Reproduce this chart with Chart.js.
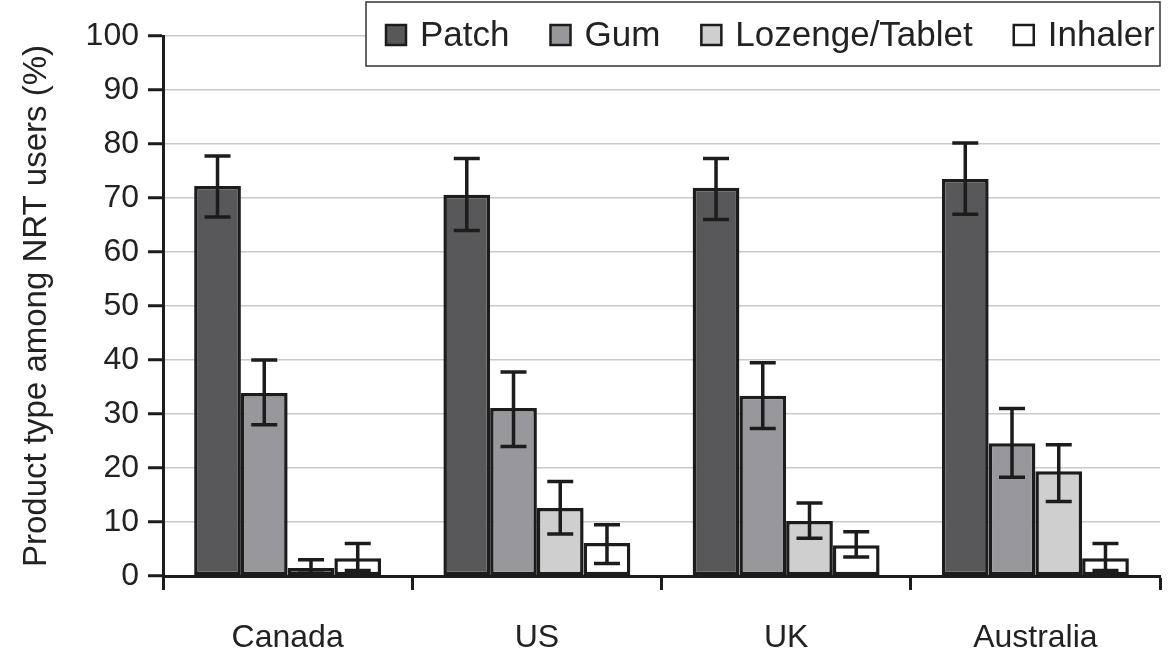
<!DOCTYPE html>
<html>
<head>
<meta charset="utf-8">
<script src="https://cdn.jsdelivr.net/npm/chart.js@4.4.0/dist/chart.umd.min.js"></script>
<style>
  html,body{margin:0;padding:0;background:#fff;}
  #wrap{width:1169px;height:658px;}
</style>
</head>
<body>
<div id="wrap"><canvas id="nrtChart" width="1169" height="658"></canvas></div>
<script>
// NRT product type by country, with error bars
const countries = ['Canada', 'US', 'UK', 'Australia'];
const productNames = ['Patch', 'Gum', 'Lozenge/Tablet', 'Inhaler'];
const productColors = ['#58585a', '#98989c', '#cfcfd0', '#ffffff'];

const patch    = [72.2, 70.6, 71.9, 73.5];
const gum      = [33.9, 31.1, 33.4, 24.6];
const lozenge  = [1.5, 12.6, 10.2, 19.4];
const inhaler  = [3.3, 6.1, 5.7, 3.3];

const patchLo   = [66.5, 64.0, 66.0, 67.0];
const patchHi   = [77.8, 77.3, 77.3, 80.2];
const gumLo     = [28.0, 24.0, 27.3, 18.3];
const gumHi     = [40.0, 37.8, 39.5, 31.0];
const lozengeLo = [0.5, 7.8, 7.0, 13.8];
const lozengeHi = [3.0, 17.5, 13.5, 24.3];
const inhalerLo = [1.0, 2.3, 3.5, 1.0];
const inhalerHi = [6.0, 9.5, 8.2, 6.0];

const yTicks = [0, 10, 20, 30, 40, 50, 60, 70, 80, 90, 100];

const FONT = "'Liberation Sans', Arial, sans-serif";
const INK = '#1c1c1c';

const seriesValues = [patch, gum, lozenge, inhaler];
const seriesLo = [patchLo, gumLo, lozengeLo, inhalerLo];
const seriesHi = [patchHi, gumHi, lozengeHi, inhalerHi];

const errorBars = {
  id: 'errorBars',
  afterDatasetsDraw(chart){
    const ctx = chart.ctx, y = chart.scales.y;
    ctx.save();
    ctx.strokeStyle = INK;
    ctx.lineWidth = 3.5;
    chart.data.datasets.forEach((ds, di) => {
      const meta = chart.getDatasetMeta(di);
      meta.data.forEach((bar, i) => {
        const x = bar.x;
        const top = y.getPixelForValue(seriesHi[di][i]);
        const bot = y.getPixelForValue(seriesLo[di][i]);
        const cap = 13;
        ctx.beginPath();
        ctx.moveTo(x, top); ctx.lineTo(x, bot);
        ctx.moveTo(x - cap, top); ctx.lineTo(x + cap, top);
        ctx.moveTo(x - cap, bot); ctx.lineTo(x + cap, bot);
        ctx.stroke();
      });
    });
    ctx.restore();
  }
};

const boxLegend = {
  id: 'boxLegend',
  afterDraw(chart){
    const ctx = chart.ctx;
    ctx.save();
    // frame
    ctx.fillStyle = '#fff';
    ctx.fillRect(366, 2, 794, 64);
    ctx.strokeStyle = '#333';
    ctx.lineWidth = 1.5;
    ctx.strokeRect(366, 2, 794, 64);
    ctx.font = '35px ' + FONT;
    ctx.textBaseline = 'middle';
    let x = 386;
    const cy = 35, sq = 20;
    chart.data.datasets.forEach(ds => {
      ctx.fillStyle = ds.backgroundColor;
      ctx.fillRect(x, cy - sq/2, sq, sq);
      ctx.strokeStyle = INK;
      ctx.lineWidth = 2.5;
      ctx.strokeRect(x, cy - sq/2, sq, sq);
      x += sq + 14;
      ctx.fillStyle = '#222';
      ctx.fillText(ds.label, x, cy + 1);
      x += ctx.measureText(ds.label).width + 41;
    });
    ctx.restore();
  }
};

new Chart(document.getElementById('nrtChart').getContext('2d'), {
  type: 'bar',
  data: {
    labels: countries,
    datasets: productNames.map((name, i) => ({
      label: name,
      data: seriesValues[i],
      backgroundColor: productColors[i],
      borderColor: INK,
      borderWidth: 3.5,
      borderSkipped: false,
      categoryPercentage: 0.75,
      barPercentage: 1.0
    }))
  },
  options: {
    responsive: false,
    animation: false,
    layout: {padding: {top: 36, right: 9, left: 0, bottom: 0}},
    plugins: {legend: {display: false}, tooltip: {enabled: false}},
    scales: {
      x: {
        grid: {display: true, drawOnChartArea: false, offset: true, tickColor: INK, tickWidth: 3, tickLength: 14},
        border: {color: INK, width: 3},
        ticks: {color: '#222', font: {family: FONT, size: 32}, padding: 29},
        afterFit(scale){ scale.height = 82; }
      },
      y: {
        min: 0, max: 100,
        afterBuildTicks(scale){ scale.ticks = yTicks.map(v => ({value: v})); },
        grid: {color: '#c9c9c9', lineWidth: 1.5, tickColor: INK, tickWidth: 3, tickLength: 15},
        border: {color: INK, width: 3},
        ticks: {color: '#222', font: {family: FONT, size: 32}, padding: 9},
        title: {display: true, text: 'Product type among NRT users (%)', color: '#222',
                font: {family: FONT, size: 33}, padding: {top: 17, bottom: 0}},
        afterFit(scale){ scale.width = 163; }
      }
    }
  },
  plugins: [errorBars, boxLegend]
});
</script>
</body>
</html>
